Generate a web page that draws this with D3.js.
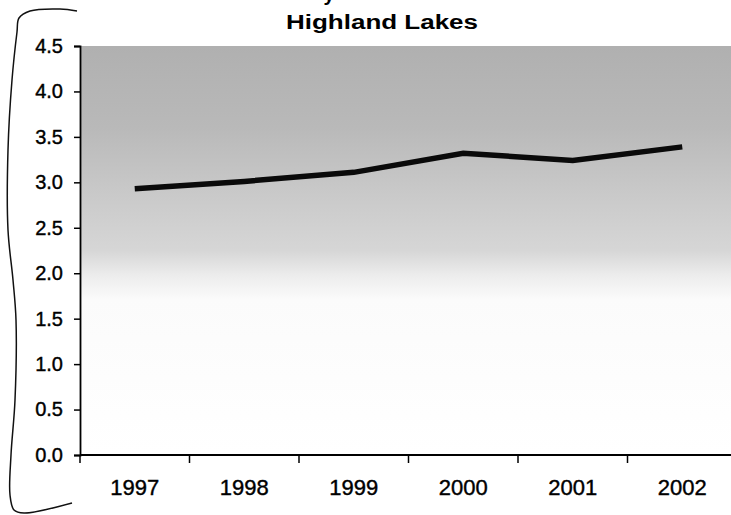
<!DOCTYPE html>
<html>
<head>
<meta charset="utf-8">
<script src="https://cdn.jsdelivr.net/npm/d3@7"></script>
<style>
  body { margin: 0; background: #fff; }
  svg { display: block; font-family: "Liberation Sans", Arial, sans-serif; }
</style>
</head>
<body>
<svg width="731" height="515"></svg>
<script>
// data
const years = ["1997", "1998", "1999", "2000", "2001", "2002"];
const values = [2.93, 3.01, 3.11, 3.32, 3.24, 3.39];
const yTicks = [0, 0.5, 1, 1.5, 2, 2.5, 3, 3.5, 4, 4.5];
const title = "Highland Lakes";

const width = 731, height = 515;
const margin = { top: 46, right: -6, bottom: 60, left: 80 };

const svg = d3.select("svg");

// scales
const x = d3.scaleBand()
  .domain(years)
  .range([margin.left, width - margin.right])
  .paddingInner(0).paddingOuter(0);

const y = d3.scaleLinear()
  .domain([0, 4.5])
  .range([height - margin.bottom, margin.top]);

// grijze achtergrond, donker boven en wit naar onder
const defs = svg.append("defs");
const grad = defs.append("linearGradient")
  .attr("id", "bg").attr("x1", 0).attr("y1", 0).attr("x2", 0).attr("y2", 1);
[[0, "#b0b0b0"], [0.2, "#b9b9b9"], [0.35, "#c8c8c8"], [0.5, "#d6d6d6"],
 [0.56, "#ececec"], [0.62, "#fbfbfb"], [1, "#ffffff"]].forEach(s => {
  grad.append("stop").attr("offset", s[0]).attr("stop-color", s[1]);
});

svg.append("rect")
  .attr("x", margin.left)
  .attr("y", y(4.5))
  .attr("width", width - margin.left)
  .attr("height", y(0) - y(4.5))
  .attr("fill", "url(#bg)");

// rest van de bovenste titelregel (ook in het origineel afgesneden)
svg.append("text")
  .attr("x", 329).attr("y", 1)
  .attr("text-anchor", "middle")
  .attr("font-size", 20).attr("font-weight", "bold")
  .text("y");

// titel
svg.append("text")
  .attr("x", 382)
  .attr("y", 29)
  .attr("text-anchor", "middle")
  .attr("font-size", 20)
  .attr("font-weight", "bold")
  .attr("textLength", 192)
  .attr("lengthAdjust", "spacingAndGlyphs")
  .text(title);

// y-as
const yAxis = svg.append("g")
  .attr("transform", `translate(${margin.left},0)`)
  .call(d3.axisLeft(y).tickValues(yTicks).tickFormat(d3.format(".1f")).tickSize(6).tickPadding(11));
yAxis.select(".domain").attr("stroke-width", 1.8);
yAxis.selectAll(".tick line").attr("stroke-width", 1.5);
yAxis.selectAll("text")
  .attr("font-size", 20).attr("fill", "#000")
  .attr("stroke", "#000").attr("stroke-width", 0.4)
  .attr("font-family", "Liberation Sans, Arial, sans-serif");

// x-as, labels in het midden van elke band
const xAxis = svg.append("g")
  .attr("transform", `translate(0,${y(0)})`)
  .call(d3.axisBottom(x).tickSize(0).tickPadding(24));
xAxis.select(".domain").remove();
xAxis.selectAll("text")
  .attr("font-size", 22).attr("fill", "#000")
  .attr("stroke", "#000").attr("stroke-width", 0.4)
  .attr("font-family", "Liberation Sans, Arial, sans-serif");

// aslijn en streepjes op de bandgrenzen
svg.append("line")
  .attr("x1", margin.left).attr("x2", width)
  .attr("y1", y(0)).attr("y2", y(0))
  .attr("stroke", "#000").attr("stroke-width", 2);

svg.append("g").selectAll("line")
  .data(years)
  .join("line")
  .attr("x1", d => x(d)).attr("x2", d => x(d))
  .attr("y1", y(0)).attr("y2", y(0) + 8)
  .attr("stroke", "#000").attr("stroke-width", 1.5);

// de lijn zelf
const line = d3.line()
  .x((d, i) => x(years[i]) + x.bandwidth() / 2)
  .y(d => y(d));

svg.append("path")
  .datum(values)
  .attr("d", line)
  .attr("fill", "none")
  .attr("stroke", "#0a0a0a")
  .attr("stroke-width", 5.5)
  .attr("stroke-linecap", "butt");

// handgetekende haak links
const bracket = [[77, 11], [60, 9], [30, 11], [19, 18], [17, 32], [12, 80], [8, 150],
  [8, 230], [13, 280], [16, 320], [15, 400], [11, 455], [10, 495], [14, 510], [24, 513], [72, 503]];
svg.append("path")
  .attr("d", d3.line().curve(d3.curveCatmullRom)(bracket))
  .attr("fill", "none")
  .attr("stroke", "#111")
  .attr("stroke-width", 1.5);
</script>
</body>
</html>
